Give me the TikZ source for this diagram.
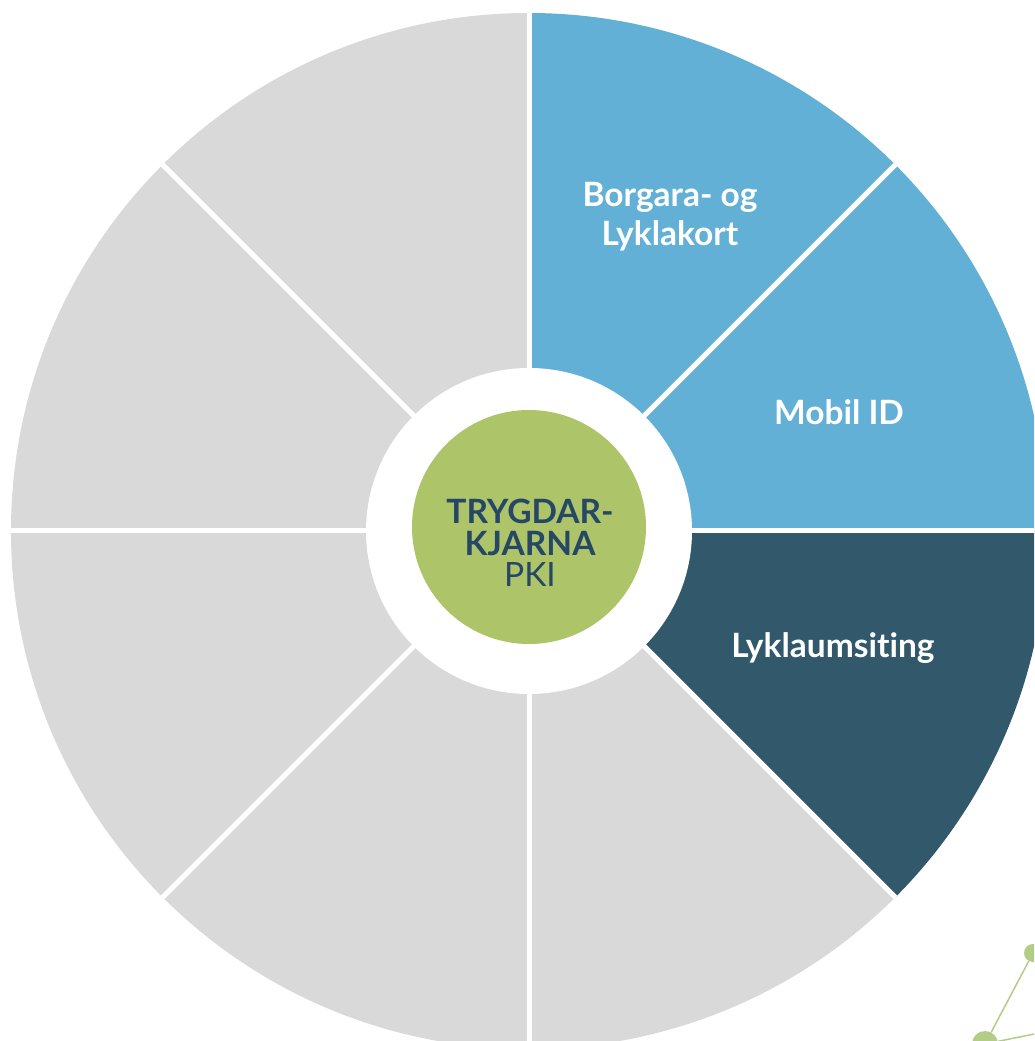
\documentclass[tikz,border=0pt]{standalone}
\usepackage{fontspec}
\newfontfamily\lato[Ligatures=NoCommon]{Lato}
\definecolor{segGray}{HTML}{D9D9D9}
\definecolor{segBlue}{HTML}{62B0D6}
\definecolor{segDark}{HTML}{32586C}
\definecolor{coreGreen}{HTML}{ADC468}
\definecolor{coreText}{HTML}{264766}
\definecolor{bgBlue}{HTML}{E5EDF7}
\definecolor{molGreen}{HTML}{B3CD86}
\pgfdeclareradialshading{bgshade}{\pgfpoint{0bp}{0bp}}{color(0bp)=(white); color(34bp)=(white); color(50bp)=(bgBlue)}
\tikzset{
  seglabel/.style={text=white, align=center, font=\lato\bfseries\fontsize{33.5}{39}\selectfont, inner sep=0pt},
  corelabel/.style={text=coreText, align=center, font=\lato\fontsize{33.5}{31.5}\selectfont, inner sep=0pt},
  divider/.style={draw=white, line width=5pt},
}
\begin{document}
\begin{tikzpicture}[x=1pt,y=1pt]
\useasboundingbox (-529,-510) rectangle (505,531);
\clip (-529,-510) rectangle (505,531);
% background
\shade[shading=bgshade] (-720,-820) rectangle (880,780);
% segments
\def\Rout{518}
\fill[segBlue] (0,0) -- (45:\Rout) arc[start angle=45,end angle=90,radius=\Rout] -- cycle;
\fill[segBlue] (0,0) -- (0:\Rout) arc[start angle=0,end angle=45,radius=\Rout] -- cycle;
\fill[segDark] (0,0) -- (-45:\Rout) arc[start angle=-45,end angle=0,radius=\Rout] -- cycle;
\fill[segGray] (0,0) -- (90:\Rout) arc[start angle=90,end angle=315,radius=\Rout] -- cycle;
% dividers
\coordinate (c) at (0,0);
\foreach \a in {0,45,...,315}{
  \coordinate (d\a) at (\a:\Rout);
  \draw[divider] (c) -- (d\a);
}
% inner white ring and core
\node[circle, fill=white, minimum size=326pt, inner sep=0pt] (ring) at (c) {};
\node[circle, fill=coreGreen, minimum size=234pt, inner sep=0pt] (core) at (0,4) {};
\node[corelabel] (coretext) at (1,-12) {{\bfseries TRYGDAR-}\\{\bfseries KJARNA}\\PKI};
% labels
\node[seglabel] (borgara) at (141,314) {Borgara- og\\Lyklakort};
\node[seglabel] (mobil) at (310,118.5) {Mobil ID};
\node[seglabel] (lykl) at (304,-117) {Lyklaumsiting};
% molecule decoration
\node[circle, fill=molGreen, minimum size=18pt, inner sep=0pt] (m1) at (504,-422) {};
\node[circle, fill=molGreen, minimum size=26pt, inner sep=0pt] (m2) at (456,-513) {};
\coordinate (m3) at (520,-500);
\draw[molGreen, line width=1.5pt] (m1) -- (m2);
\draw[molGreen, line width=1.5pt] (m2) -- (m3);
\end{tikzpicture}
\end{document}
